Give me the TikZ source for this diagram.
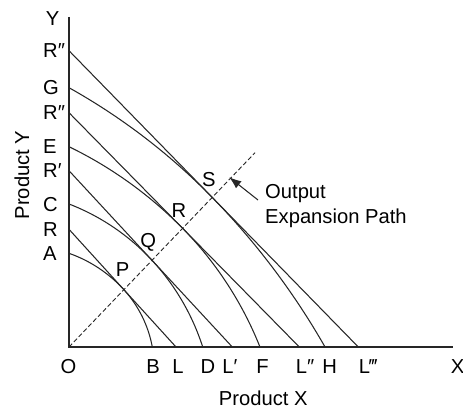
\documentclass[tikz,border=0pt]{standalone}
\usepackage{fontspec}
\setmainfont{Liberation Sans}
\usetikzlibrary{arrows.meta}
\begin{document}
\begin{tikzpicture}[x=1pt,y=1pt,
  lab/.style={inner sep=0pt,text height=14.4pt,text depth=0pt,font=\fontsize{20.2}{24}\selectfont},
  axisline/.style={line width=1.3pt,draw=black!85},
  curve/.style={line width=1.05pt,draw=black!85},
  expath/.style={line width=0.9pt,draw=black!85,dash pattern=on 4.5pt off 2.5pt},
  pointer/.style={line width=1.05pt,draw=black!85,-{Latex[length=12pt,width=9pt]}}]
\useasboundingbox (0,0) rectangle (463,410);
% axis points
\coordinate (O) at (69,63);
\coordinate (Ytop) at (69,393);
\coordinate (Xend) at (453,63);
\coordinate (pR3) at (69,359.3);
\coordinate (pG) at (69,322.3);
\coordinate (pR2) at (69,297.3);
\coordinate (pE) at (69,263.3);
\coordinate (pR1) at (69,239.3);
\coordinate (pC) at (69,206);
\coordinate (pR) at (69,180.7);
\coordinate (pA) at (69,156.7);
\coordinate (pB) at (152.3,63);
\coordinate (pL) at (176,63);
\coordinate (pD) at (202.7,63);
\coordinate (pL1) at (232.3,63);
\coordinate (pF) at (260,63);
\coordinate (pL2) at (299.3,63);
\coordinate (pH) at (325,63);
\coordinate (pL3) at (358.3,63);
\coordinate (dEnd) at (255,257.3);
\coordinate (aTail) at (258,210);
\coordinate (aTip) at (229.3,232.7);
% axes
\draw[axisline] (Ytop) -- (O) -- (Xend);
% iso-revenue lines
\draw[curve] (pR) -- (pL);
\draw[curve] (pR1) -- (pL1);
\draw[curve] (pR2) -- (pL2);
\draw[curve] (pR3) -- (pL3);
% production possibility curves
\draw[curve] (pA) arc[start angle=70.63,end angle=42.27,radius=134.5pt]
                  arc[start angle=42.27,end angle=10.46,radius=116.7pt];
\draw[curve] (pC) arc[start angle=68.90,end angle=42.81,radius=222.2pt]
                  arc[start angle=42.81,end angle=17.83,radius=232.2pt];
\draw[curve] (pE) arc[start angle=64.11,end angle=44.51,radius=410.8pt]
                  arc[start angle=44.51,end angle=21.70,radius=358.3pt];
\draw[curve] (pG) arc[start angle=60.78,end angle=44.32,radius=630.1pt]
                  arc[start angle=44.32,end angle=29.72,radius=737.5pt];
% expansion path
\draw[expath] (O) -- (dEnd);
\draw[pointer] (aTail) -- (aTip);
% Y axis labels
\node[lab] (lY) at (52.5,391.5) {Y};
\node[lab,anchor=west] (lR3) at (43,359.3) {R″};
\node[lab,anchor=west] (lG) at (43,322.3) {G};
\node[lab,anchor=west] (lR2) at (43,297.3) {R″};
\node[lab,anchor=west] (lE) at (43,263.3) {E};
\node[lab,anchor=west] (lR1) at (43,239.3) {R′};
\node[lab,anchor=west] (lC) at (43,206) {C};
\node[lab,anchor=west] (lR) at (43,180.7) {R};
\node[lab,anchor=west] (lA) at (43,156.7) {A};
% X axis labels
\node[lab] (lO) at (68.5,44) {O};
\node[lab] (lB) at (153,44) {B};
\node[lab] (lL) at (178,44) {L};
\node[lab] (lD) at (208,44) {D};
\node[lab] (lL1) at (230,44) {L′};
\node[lab] (lF) at (262.5,44) {F};
\node[lab] (lL2) at (305,44) {L″};
\node[lab] (lH) at (329.7,44) {H};
\node[lab] (lL3) at (368,44) {L‴};
\node[lab] (lX) at (457.5,44) {X};
% point labels
\node[lab] (lP) at (122.5,140.3) {P};
\node[lab] (lQ) at (148.3,169.2) {Q};
\node[lab] (lRR) at (178.8,200) {R};
\node[lab] (lS) at (208.8,230.8) {S};
% texts
\node[lab,anchor=west] (tOut) at (265,219) {Output};
\node[lab,anchor=west] (tExp) at (265,194) {Expansion Path};
\node[lab] (tPX) at (263.3,11.5) {Product X};
\node[lab,rotate=90] (tPY) at (22,235) {Product Y};
\end{tikzpicture}
\end{document}
